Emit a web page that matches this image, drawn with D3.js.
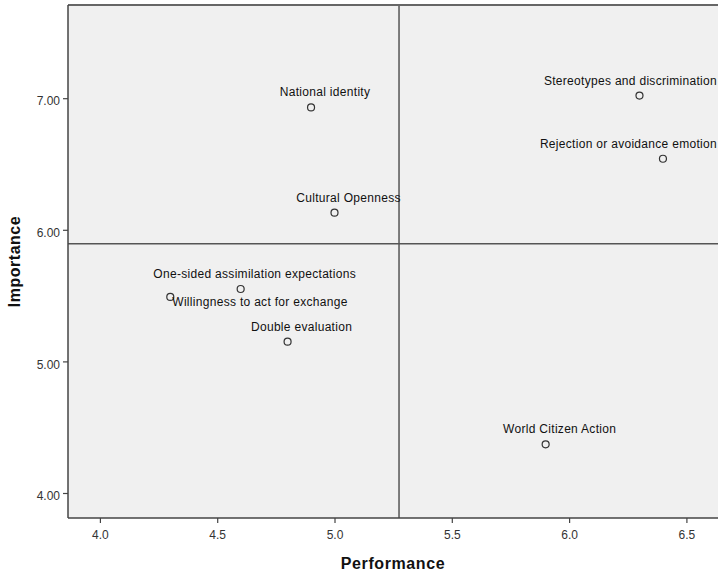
<!DOCTYPE html>
<html><head><meta charset="utf-8">
<script src="https://cdn.jsdelivr.net/npm/d3@7"></script>
<style>
html,body{margin:0;padding:0;background:#fff;}
svg{display:block;font-family:"Liberation Sans",Arial,sans-serif;}
</style></head>
<body>
<svg id="c" width="718" height="575"></svg>
<script>
const labels = ["National identity","Cultural Openness","Stereotypes and discrimination","Rejection or avoidance emotion","One-sided assimilation expectations","Willingness to act for exchange","Double evaluation","World Citizen Action"];
const performance = [4.90, 5.00, 6.30, 6.40, 4.60, 4.30, 4.80, 5.90];
const importance = [6.93, 6.13, 7.02, 6.54, 5.55, 5.49, 5.15, 4.37];
const labelSide = ["top","top","top","top","top","right","top","top"];
const xTicks = [4.0, 4.5, 5.0, 5.5, 6.0, 6.5];
const yTicks = [4.00, 5.00, 6.00, 7.00];
const meanPerformance = 5.275;
const meanImportance = 5.894;

const svg = d3.select("#c");
const W = 718;
const L = 68, T = 5, R = 722, B = 518;
const x = d3.scaleLinear().domain([3.864, 6.65]).range([L, L + (6.65-3.864)*234.6]);
const y = d3.scaleLinear().domain([3.81, 7.70]).range([B, B - (7.70-3.81)*131.6]);

svg.append("rect").attr("x", L).attr("y", T).attr("width", R - L).attr("height", B - T)
  .attr("fill", "#f0f0f0");

const plot = svg.append("g");
plot.append("line").attr("x1", L).attr("x2", R).attr("y1", y(meanImportance)).attr("y2", y(meanImportance))
  .attr("stroke", "#555").attr("stroke-width", 1.5);
plot.append("line").attr("x1", x(meanPerformance)).attr("x2", x(meanPerformance)).attr("y1", T).attr("y2", B)
  .attr("stroke", "#555").attr("stroke-width", 1.5);

svg.append("line").attr("x1", L).attr("x2", R).attr("y1", T).attr("y2", T).attr("stroke", "#666").attr("stroke-width", 2);

const xAxis = d3.axisBottom(x).tickValues(xTicks).tickFormat(d3.format(".1f")).tickSize(5).tickSizeOuter(0);
const gx = svg.append("g").attr("transform", `translate(0,${B})`).call(xAxis);
gx.select(".domain").attr("stroke", "#444").attr("stroke-width", 1.5).attr("d", `M${L},0H${R}`);
gx.selectAll(".tick line").attr("stroke", "#444").attr("stroke-width", 1.2);
gx.selectAll(".tick text").attr("fill", "#333").attr("font-size", 12).attr("y", 10).attr("dy", "0.9em").attr("font-family", "Liberation Sans, Arial, sans-serif");

const yAxis = d3.axisLeft(y).tickValues(yTicks).tickFormat(d3.format(".2f")).tickSize(5).tickSizeOuter(0);
const gy = svg.append("g").attr("transform", `translate(${L},0)`).call(yAxis);
gy.select(".domain").attr("stroke", "#444").attr("stroke-width", 1.5).attr("d", `M0,${T}V${B}`);
gy.selectAll(".tick line").attr("stroke", "#444").attr("stroke-width", 1.2);
gy.selectAll(".tick text").attr("fill", "#333").attr("font-size", 12).attr("x", -8).attr("dy", "0.55em").attr("font-family", "Liberation Sans, Arial, sans-serif");

svg.append("text").attr("x", (L + W) / 2).attr("y", 569).attr("text-anchor", "middle")
  .attr("font-size", 16).attr("font-weight", "bold").attr("letter-spacing", 0.6).attr("fill", "#111").text("Performance");
svg.append("text").attr("transform", `translate(20,${(T + B) / 2}) rotate(-90)`).attr("text-anchor", "middle")
  .attr("font-size", 16).attr("font-weight", "bold").attr("letter-spacing", 0.5).attr("fill", "#111").text("Importance");

const data = labels.map((l, i) => ({label: l, px: performance[i], iy: importance[i], side: labelSide[i]}));
const pts = svg.append("g");
pts.selectAll("circle").data(data).join("circle")
  .attr("cx", d => x(d.px)).attr("cy", d => y(d.iy)).attr("r", 3.5)
  .attr("fill", "none").attr("stroke", "#333").attr("stroke-width", 1.2);
const txt = pts.selectAll("text").data(data).join("text")
  .attr("text-anchor", "start")
  .attr("y", d => d.side === "right" ? y(d.iy) + 9 : y(d.iy) - 11)
  .attr("font-size", 12).attr("letter-spacing", 0.3).attr("fill", "#111").text(d => d.label);
txt.each(function(d) {
  const w = this.getComputedTextLength();
  let sx;
  if (d.side === "right") sx = x(d.px) + 2;
  else {
    sx = x(d.px) + 14 - w / 2;
    if (sx + w > W - 1) sx = W - 1 - w;
  }
  d3.select(this).attr("x", sx);
});
</script>
</body></html>
